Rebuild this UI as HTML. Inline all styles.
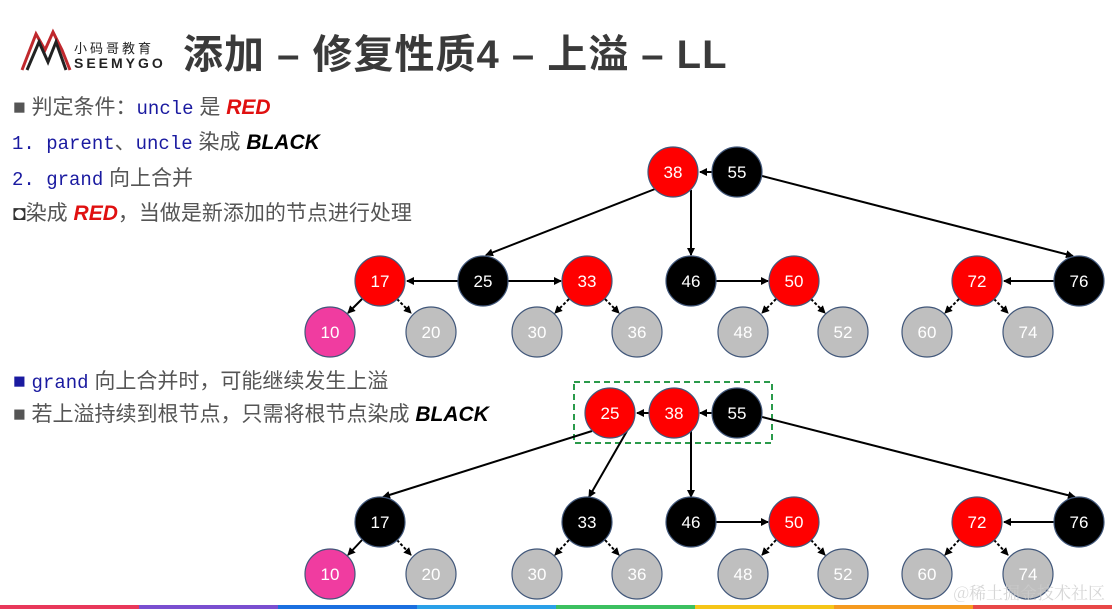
<!DOCTYPE html>
<html><head><meta charset="utf-8"><style>
body{margin:0;width:1112px;height:609px;overflow:hidden;background:#fff;font-family:"Liberation Sans","Noto Sans CJK SC",sans-serif}
.t{position:absolute;font-size:21px;color:#555;white-space:nowrap;line-height:26px}
.m{font-family:"Liberation Mono","Noto Sans CJK SC",monospace;color:#1a1aa0;font-size:19px}
.r{color:#e01010;font-weight:bold;font-style:italic}
.k{color:#000;font-weight:bold;font-style:italic}
</style></head><body>
<svg width="1112" height="609" style="position:absolute;left:0;top:0" font-family="Liberation Sans, Noto Sans CJK SC, sans-serif">
<defs>
<marker id="a" markerWidth="8" markerHeight="8" refX="7" refY="4" orient="auto" markerUnits="userSpaceOnUse"><path d="M0,0 L8,4 L0,8 z" fill="#000"/></marker>
</defs>
<path d="M22,70 L36,34 L45,50 L53,32 L62,50 L70,70" fill="none" stroke="#c0282d" stroke-width="3"/>
<path d="M27,70 L39,42 L48,62 L56,42 L66,70" fill="none" stroke="#222" stroke-width="3"/>
<text x="74" y="53" font-size="13" fill="#222" letter-spacing="3" font-family="Noto Sans CJK SC, sans-serif">小码哥教育</text>
<text x="74" y="68" font-size="14" fill="#222" font-weight="bold" letter-spacing="3">SEEMYGO</text>
<text x="183" y="68" font-size="40" font-weight="bold" fill="#3a3a3a" letter-spacing="1" font-family="Liberation Sans, Noto Sans CJK SC, sans-serif">添加 – 修复性质4 – 上溢 – LL</text>
<rect x="574" y="382" width="198" height="61" fill="none" stroke="#2a9a4a" stroke-width="2" stroke-dasharray="6,4"/>
<g stroke="#000" stroke-width="2" fill="none">
<line x1="712" y1="172" x2="700" y2="172" marker-end="url(#a)"/>
<line x1="655" y1="189" x2="486" y2="255" marker-end="url(#a)"/>
<line x1="691" y1="190" x2="691" y2="255" marker-end="url(#a)"/>
<line x1="762" y1="176" x2="1073" y2="256" marker-end="url(#a)"/>
<line x1="458" y1="281" x2="407" y2="281" marker-end="url(#a)"/>
<line x1="508" y1="281" x2="561" y2="281" marker-end="url(#a)"/>
<line x1="716" y1="281" x2="768" y2="281" marker-end="url(#a)"/>
<line x1="1054" y1="281" x2="1004" y2="281" marker-end="url(#a)"/>
<line x1="362" y1="299" x2="348" y2="313" marker-end="url(#a)"/>
<g stroke-dasharray="3,2">
<line x1="397" y1="299" x2="411" y2="313" marker-end="url(#a)"/>
<line x1="569" y1="299" x2="555" y2="313" marker-end="url(#a)"/>
<line x1="605" y1="299" x2="619" y2="313" marker-end="url(#a)"/>
<line x1="776" y1="299" x2="762" y2="313" marker-end="url(#a)"/>
<line x1="811" y1="299" x2="825" y2="313" marker-end="url(#a)"/>
<line x1="959" y1="299" x2="945" y2="313" marker-end="url(#a)"/>
<line x1="994" y1="299" x2="1008" y2="313" marker-end="url(#a)"/>
</g>
<line x1="712" y1="413" x2="700" y2="413" marker-end="url(#a)"/>
<line x1="649" y1="413" x2="637" y2="413" marker-end="url(#a)"/>
<line x1="592" y1="431" x2="383" y2="497" marker-end="url(#a)"/>
<line x1="627" y1="431" x2="589" y2="497" marker-end="url(#a)"/>
<line x1="691" y1="431" x2="691" y2="497" marker-end="url(#a)"/>
<line x1="762" y1="417" x2="1075" y2="497" marker-end="url(#a)"/>
<line x1="716" y1="522" x2="768" y2="522" marker-end="url(#a)"/>
<line x1="1054" y1="522" x2="1004" y2="522" marker-end="url(#a)"/>
<line x1="362" y1="540" x2="348" y2="555" marker-end="url(#a)"/>
<g stroke-dasharray="3,2">
<line x1="397" y1="540" x2="411" y2="555" marker-end="url(#a)"/>
<line x1="569" y1="540" x2="555" y2="555" marker-end="url(#a)"/>
<line x1="605" y1="540" x2="619" y2="555" marker-end="url(#a)"/>
<line x1="776" y1="540" x2="762" y2="555" marker-end="url(#a)"/>
<line x1="811" y1="540" x2="825" y2="555" marker-end="url(#a)"/>
<line x1="959" y1="540" x2="945" y2="555" marker-end="url(#a)"/>
<line x1="994" y1="540" x2="1008" y2="555" marker-end="url(#a)"/>
</g>
</g>
<g stroke="#41577a" stroke-width="1.2">
<circle cx="673" cy="172" r="25" fill="#ff0000"/><circle cx="737" cy="172" r="25" fill="#000"/>
<circle cx="380" cy="281" r="25" fill="#ff0000"/><circle cx="483" cy="281" r="25" fill="#000"/><circle cx="587" cy="281" r="25" fill="#ff0000"/>
<circle cx="691" cy="281" r="25" fill="#000"/><circle cx="794" cy="281" r="25" fill="#ff0000"/><circle cx="977" cy="281" r="25" fill="#ff0000"/><circle cx="1079" cy="281" r="25" fill="#000"/>
<circle cx="330" cy="332" r="25" fill="#f03ca0"/><circle cx="431" cy="332" r="25" fill="#bfbfbf"/><circle cx="537" cy="332" r="25" fill="#bfbfbf"/><circle cx="637" cy="332" r="25" fill="#bfbfbf"/>
<circle cx="743" cy="332" r="25" fill="#bfbfbf"/><circle cx="843" cy="332" r="25" fill="#bfbfbf"/><circle cx="927" cy="332" r="25" fill="#bfbfbf"/><circle cx="1028" cy="332" r="25" fill="#bfbfbf"/>
<circle cx="610" cy="413" r="25" fill="#ff0000"/><circle cx="674" cy="413" r="25" fill="#ff0000"/><circle cx="737" cy="413" r="25" fill="#000"/>
<circle cx="380" cy="522" r="25" fill="#000"/><circle cx="587" cy="522" r="25" fill="#000"/>
<circle cx="691" cy="522" r="25" fill="#000"/><circle cx="794" cy="522" r="25" fill="#ff0000"/><circle cx="977" cy="522" r="25" fill="#ff0000"/><circle cx="1079" cy="522" r="25" fill="#000"/>
<circle cx="330" cy="574" r="25" fill="#f03ca0"/><circle cx="431" cy="574" r="25" fill="#bfbfbf"/><circle cx="537" cy="574" r="25" fill="#bfbfbf"/><circle cx="637" cy="574" r="25" fill="#bfbfbf"/>
<circle cx="743" cy="574" r="25" fill="#bfbfbf"/><circle cx="843" cy="574" r="25" fill="#bfbfbf"/><circle cx="927" cy="574" r="25" fill="#bfbfbf"/><circle cx="1028" cy="574" r="25" fill="#bfbfbf"/>
</g>
<g fill="#fff" font-size="17" text-anchor="middle">
<text x="673" y="178">38</text><text x="737" y="178">55</text>
<text x="380" y="287">17</text><text x="483" y="287">25</text><text x="587" y="287">33</text><text x="691" y="287">46</text><text x="794" y="287">50</text><text x="977" y="287">72</text><text x="1079" y="287">76</text>
<text x="330" y="338">10</text><text x="431" y="338">20</text><text x="537" y="338">30</text><text x="637" y="338">36</text><text x="743" y="338">48</text><text x="843" y="338">52</text><text x="927" y="338">60</text><text x="1028" y="338">74</text>
<text x="610" y="419">25</text><text x="674" y="419">38</text><text x="737" y="419">55</text>
<text x="380" y="528">17</text><text x="587" y="528">33</text><text x="691" y="528">46</text><text x="794" y="528">50</text><text x="977" y="528">72</text><text x="1079" y="528">76</text>
<text x="330" y="580">10</text><text x="431" y="580">20</text><text x="537" y="580">30</text><text x="637" y="580">36</text><text x="743" y="580">48</text><text x="843" y="580">52</text><text x="927" y="580">60</text><text x="1028" y="580">74</text>
</g>
<text x="1105" y="599" font-size="17" fill="#ccc" fill-opacity="0.8" text-anchor="end" font-family="Noto Serif CJK SC, serif">@稀土掘金技术社区</text>
<rect x="0" y="605" width="139" height="4" fill="#e8385a"/><rect x="139" y="605" width="139" height="4" fill="#7a4fd0"/>
<rect x="278" y="605" width="139" height="4" fill="#1a6fe0"/><rect x="417" y="605" width="139" height="4" fill="#2aa0e8"/>
<rect x="556" y="605" width="139" height="4" fill="#3cc060"/><rect x="695" y="605" width="139" height="4" fill="#f5c518"/>
<rect x="834" y="605" width="139" height="4" fill="#f59a20"/><rect x="973" y="605" width="139" height="4" fill="#e84848"/>
</svg>
<div class="t" style="left:13px;top:95px"><span style="color:#555">■</span> 判定条件：<span class="m">uncle</span> 是 <span class="r">RED</span></div>
<div class="t" style="left:12px;top:130px"><span class="m">1. parent</span>、<span class="m">uncle</span> 染成 <span class="k">BLACK</span></div>
<div class="t" style="left:12px;top:166px"><span class="m">2. grand</span> 向上合并</div>
<div class="t" style="left:13px;top:201px"><span style="color:#333">◘</span>染成 <span class="r">RED</span>，当做是新添加的节点进行处理</div>
<div class="t" style="left:13px;top:369px"><span style="color:#1a1aa0">■</span> <span class="m">grand</span> 向上合并时，可能继续发生上溢</div>
<div class="t" style="left:13px;top:402px">■ 若上溢持续到根节点，只需将根节点染成 <span class="k">BLACK</span></div>
</body></html>
